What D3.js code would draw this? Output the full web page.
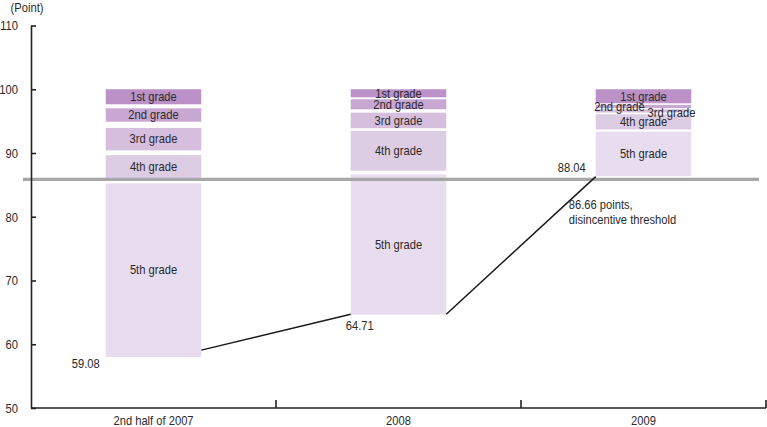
<!DOCTYPE html>
<html>
<head>
<meta charset="utf-8">
<script src="https://cdn.jsdelivr.net/npm/d3@7"></script>
<style>
  html, body { margin: 0; padding: 0; background: #fff; }
  svg { display: block; }
  text { font-family: "Liberation Sans", Arial, sans-serif; fill: #2a2a2a; }
</style>
</head>
<body>
<svg id="chart" width="767" height="427"></svg>
<script>
// ---- data ----
const categories = ["2nd half of 2007", "2008", "2009"];
const grades = ["1st grade", "2nd grade", "3rd grade", "4th grade", "5th grade"];
// upper / lower bound of each grade segment, per category
const segTop2007 = [100, 97.01, 93.92, 89.66, 85.24];
const segBottom2007 = [97.64, 94.91, 90.41, 86.07, 58.0];
const segTop2008 = [100, 98.43, 96.33, 93.45, 86.65];
const segBottom2008 = [98.74, 96.86, 93.88, 87.22, 64.64];
const segTop2009 = [100, 97.55, 96.85, 96.07, 93.34];
const segBottom2009 = [97.8, 97.05, 96.35, 93.7, 86.38];
const gradeColors = ["#bb91c7", "#c9a7d3", "#d5bede", "#dccce4", "#e8ddee"];
// connector line: from bottom-right of bar i to bottom-left of bar i+1
const connStart = [59.08, 64.71];
const connEnd = [64.71, 86.3];
const valueLabels = ["59.08", "64.71", "88.04"];
const valueLabelAt = [59.08, 64.71, 88.04];
const threshold = 85.85;
const thresholdText = ["86.66 points,", "disincentive threshold"];
const yTicks = [50, 60, 70, 80, 90, 100, 110];
const yUnit = "(Point)";

// ---- layout ----
const svg = d3.select("#chart");
const x = d3.scaleBand().domain(categories).range([31, 766]).paddingInner(0).paddingOuter(0);
const y = d3.scaleLinear().domain([50, 110]).range([408, 25.5]);
const barW = x.bandwidth() * 0.39;
const cx = c => x(c) + x.bandwidth() / 2;
const fontSize = "13px";
const SX = 0.86; // horizontal condensing of the font

function label(px, py, t, anchor) {
  return svg.append("text")
    .attr("transform", `translate(${px},${py}) scale(${SX},1)`)
    .attr("text-anchor", anchor || "middle")
    .attr("dominant-baseline", "central")
    .style("font-size", fontSize)
    .text(t);
}

const segData = [
  [segTop2007, segBottom2007],
  [segTop2008, segBottom2008],
  [segTop2009, segBottom2009]
];

// bars
categories.forEach((c, ci) => {
  const [tops, bots] = segData[ci];
  svg.append("g").selectAll("rect").data(grades).join("rect")
    .attr("x", cx(c) - barW / 2)
    .attr("width", barW)
    .attr("y", (d, i) => y(tops[i]))
    .attr("height", (d, i) => y(bots[i]) - y(tops[i]))
    .attr("fill", (d, i) => gradeColors[i]);
});

// threshold line
svg.append("line")
  .attr("x1", 23).attr("x2", 759)
  .attr("y1", y(threshold)).attr("y2", y(threshold))
  .attr("stroke", "#a7a7a7").attr("stroke-width", 3.2);

// grade labels
categories.forEach((c, ci) => {
  const [tops, bots] = segData[ci];
  grades.forEach((gname, i) => {
    const h = y(bots[i]) - y(tops[i]);
    let dx = 0, dy = 0;
    if (h < 6) { // too thin: shift label aside
      if (i === 1) { dx = -24; dy = 0; }
      if (i === 2) { dx = 28; dy = 2; }
    }
    label(cx(c) + dx, (y(tops[i]) + y(bots[i])) / 2 + dy, gname);
  });
});

// connector lines
connStart.forEach((v, i) => {
  svg.append("line")
    .attr("x1", cx(categories[i]) + barW / 2).attr("y1", y(v))
    .attr("x2", cx(categories[i + 1]) - barW / 2).attr("y2", y(connEnd[i]))
    .attr("stroke", "#1a1a1a").attr("stroke-width", 1.5);
});

// value labels
const vlDx = [-20, 9, -24];
const vlDy = [14, 11, 2];
valueLabels.forEach((t, i) => {
  label(cx(categories[i]) - barW / 2 + vlDx[i], y(valueLabelAt[i]) + vlDy[i], t);
});

// threshold annotation
thresholdText.forEach((t, i) => {
  label(cx(categories[2]) - barW / 2 - 27, 205 + i * 15, t, "start");
});

// y axis
const yAxis = svg.append("g").attr("transform", "translate(31,0)")
  .call(d3.axisLeft(y).tickValues(yTicks).tickSizeInner(-5).tickSizeOuter(0).tickPadding(13));
yAxis.select(".domain").attr("stroke", "#222").attr("stroke-width", 1.6);
yAxis.selectAll(".tick line").attr("stroke", "#222").attr("stroke-width", 1.6);
yAxis.selectAll(".tick text")
  .attr("x", 0).attr("dy", null)
  .attr("dominant-baseline", "central")
  .attr("transform", `translate(-13,0) scale(${SX},1)`)
  .style("font-size", fontSize)
  .style("font-family", "'Liberation Sans', Arial, sans-serif").attr("fill", "#2a2a2a");

label(27, 8, yUnit);

// x axis
const xAxis = svg.append("g").attr("transform", "translate(0,408)")
  .call(d3.axisBottom(x).tickSize(0).tickPadding(0));
xAxis.select(".domain").remove();
xAxis.selectAll(".tick text")
  .attr("y", 0).attr("dy", null)
  .attr("dominant-baseline", "central")
  .attr("transform", `translate(0,12.5) scale(${SX},1)`)
  .style("font-size", fontSize)
  .style("font-family", "'Liberation Sans', Arial, sans-serif").attr("fill", "#2a2a2a");
svg.append("line").attr("x1", 31).attr("x2", 766).attr("y1", 408).attr("y2", 408)
  .attr("stroke", "#222").attr("stroke-width", 1.6);
categories.forEach(c => {
  const xb = x(c) + x.bandwidth();
  svg.append("line").attr("x1", xb).attr("x2", xb).attr("y1", 408).attr("y2", 400)
    .attr("stroke", "#222").attr("stroke-width", 1.6);
});
</script>
</body>
</html>
